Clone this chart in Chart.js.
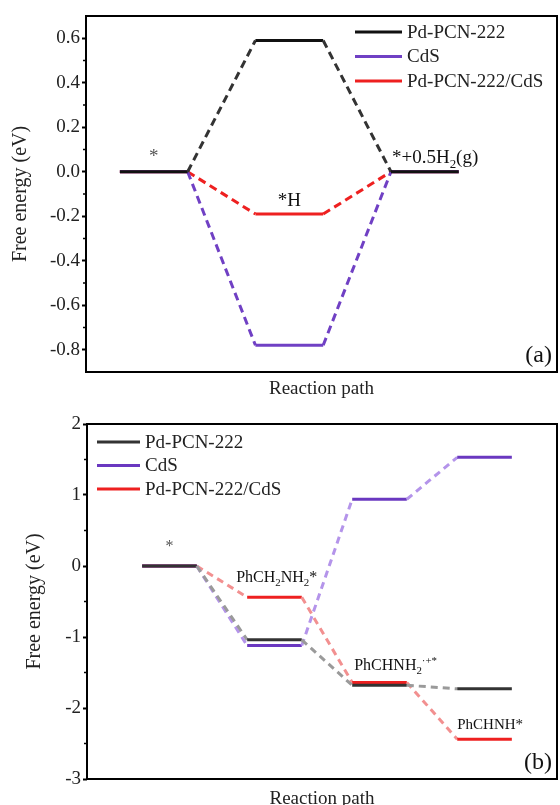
<!DOCTYPE html>
<html><head><meta charset="utf-8">
<script src="https://cdn.jsdelivr.net/npm/chart.js@4/dist/chart.umd.min.js"></script>
<style>
html,body{margin:0;padding:0;background:#fff;width:560px;height:805px;overflow:hidden}
#ca{position:absolute;left:0;top:0}
#cb{position:absolute;left:0;top:400px}
</style></head><body>
<canvas id="ca" width="560" height="400"></canvas>
<canvas id="cb" width="560" height="412"></canvas>
<script>
// ---------- data ----------
const seriesNames = ['Pd-PCN-222', 'CdS', 'Pd-PCN-222/CdS'];
// panel (a): hydrogen evolution
const stepsA = ['*', '*H', '*+0.5H2(g)'];
const pdA   = [0, 0.59, 0];
const cdsA  = [0, -0.78, 0];
const compA = [0, -0.19, 0];
const yTicksA = [-0.8, -0.6, -0.4, -0.2, 0.0, 0.2, 0.4, 0.6];
// panel (b): benzylamine oxidation
const stepsB = ['*', 'PhCH2NH2*', 'PhCHNH2·+*', 'PhCHNH*'];
const pdB   = [0, -1.04, -1.68, -1.73];
const cdsB  = [0, -1.12, 0.94, 1.53];
const compB = [0, -0.44, -1.64, -2.44];
const yTicksB = [-3, -2, -1, 0, 1, 2];

// ---------- styling ----------
const FONT = "'Liberation Serif','Times New Roman',serif";
Chart.defaults.font.family = FONT;
Chart.defaults.color = '#222';

function levelPoints(vals, start, width) {
  const pts = [];
  vals.forEach((v, i) => {
    pts.push({x: start + 2 * i, y: v});
    pts.push({x: start + 2 * i + width, y: v});
  });
  return pts;
}
function ds(label, pts, color, connColor, dash) {
  return {
    label, data: pts, borderColor: color, backgroundColor: color, borderWidth: 3,
    pointRadius: 0, pointHoverRadius: 0, fill: false, tension: 0, borderCapStyle: 'butt',
    segment: {
      borderColor: c => (c.p0DataIndex % 2 === 1 ? connColor : color),
      borderDash: c => (c.p0DataIndex % 2 === 1 ? dash : [])
    }
  };
}

function drawRich(ctx, parts, x, y, size, align, color) {
  const widths = parts.map(p => {
    const s = (p.sub || p.sup) ? size * 0.68 : size;
    ctx.font = s + 'px ' + FONT;
    return ctx.measureText(p.t).width;
  });
  const total = widths.reduce((a, b) => a + b, 0);
  let cx = align === 'center' ? x - total / 2 : (align === 'right' ? x - total : x);
  ctx.fillStyle = color;
  ctx.textBaseline = 'alphabetic';
  ctx.textAlign = 'left';
  parts.forEach((p, i) => {
    const s = (p.sub || p.sup) ? size * 0.68 : size;
    ctx.font = s + 'px ' + FONT;
    const oy = p.sub ? size * 0.25 : (p.sup ? -size * 0.42 : 0);
    ctx.fillText(p.t, cx, y + oy);
    cx += widths[i];
  });
}

function makePlugin(cfg) {
  return {
    id: 'deco' + cfg.id,
    afterDatasetsDraw(chart) {
      const {ctx, chartArea: a, scales: {x, y}} = chart;
      ctx.save();
      // frame
      ctx.strokeStyle = '#000';
      ctx.lineWidth = 2;
      ctx.strokeRect(a.left, a.top, a.right - a.left, a.bottom - a.top);
      // minor ticks
      ctx.lineWidth = 1.5;
      for (let i = 0; i < cfg.ticks.length - 1; i++) {
        const m = (cfg.ticks[i] + cfg.ticks[i + 1]) / 2;
        const py = y.getPixelForValue(m);
        ctx.beginPath(); ctx.moveTo(a.left - 3, py); ctx.lineTo(a.left, py); ctx.stroke();
      }
      // legend
      cfg.legend.colors.forEach((c, i) => {
        const ly = cfg.legend.y + i * cfg.legend.dy;
        ctx.strokeStyle = c; ctx.lineWidth = 3;
        ctx.beginPath(); ctx.moveTo(cfg.legend.x, ly); ctx.lineTo(cfg.legend.x + cfg.legend.len, ly); ctx.stroke();
        ctx.fillStyle = '#222';
        ctx.font = '19px ' + FONT;
        ctx.textBaseline = 'middle'; ctx.textAlign = 'left';
        ctx.fillText(seriesNames[i], cfg.legend.x + cfg.legend.len + 5, ly + 1);
      });
      // step labels
      cfg.labels.forEach(L => {
        const xs = cfg.start + 2 * L.step;
        const xv = L.align === 'center' ? xs + cfg.width / 2 : xs;
        const px = x.getPixelForValue(xv) + (L.dx || 0);
        const py = y.getPixelForValue(L.series[L.step]) + L.dy;
        drawRich(ctx, L.parts, px, py, L.size, L.align, L.color || '#111');
      });
      // panel tag
      ctx.font = '24px ' + FONT;
      ctx.fillStyle = '#111';
      ctx.textAlign = 'right'; ctx.textBaseline = 'alphabetic';
      ctx.fillText(cfg.tag, a.right - 5, a.bottom - 10);
      ctx.restore();
    }
  };
}

function makeChart(el, c) {
  return new Chart(el, {
    type: 'line',
    data: {datasets: c.datasets},
    options: {
      responsive: false, animation: false, events: [],
      layout: {padding: {left: 0, top: c.top, right: 3, bottom: 0}},
      plugins: {legend: {display: false}, tooltip: {enabled: false}},
      scales: {
        x: {
          type: 'linear', min: c.xmin, max: c.xmax,
          ticks: {display: false},
          grid: {display: false, drawTicks: false},
          border: {display: false},
          title: {display: true, text: 'Reaction path', color: '#222',
                  font: {size: 19, family: FONT}, padding: {top: 0, bottom: c.xtitlePad}},
          afterFit: s => { s.height = c.xh; }
        },
        y: {
          min: c.ymin, max: c.ymax,
          afterBuildTicks: s => { s.ticks = c.ticks.map(v => ({value: v})); },
          ticks: {color: '#222', font: {size: 19, family: FONT}, padding: 2,
                  callback: v => c.fmt(v)},
          grid: {drawOnChartArea: false, drawTicks: true, tickLength: 4, tickColor: '#000', tickWidth: 2},
          border: {display: false},
          title: {display: true, text: 'Free energy (eV)', color: '#222',
                  font: {size: 20, family: FONT}, padding: {top: c.ytitlePad, bottom: 0}},
          afterFit: s => { s.width = c.yw; }
        }
      }
    },
    plugins: [makePlugin(c.deco)]
  });
}

// ---------- panel (a) ----------
const startA = 0.5, widthA = 1;
makeChart(document.getElementById('ca'), {
  datasets: [
    ds(seriesNames[0], levelPoints(pdA, startA, widthA), '#111', '#333', [8, 5]),
    ds(seriesNames[1], levelPoints(cdsA, startA, widthA), '#7040c4', '#7040c4', [8, 5]),
    ds(seriesNames[2], levelPoints(compA, startA, widthA), '#ee2020', '#ee2020', [8, 5])
  ],
  xmin: 0, xmax: 6.95, ymin: -0.9, ymax: 0.7, ticks: yTicksA, fmt: v => v.toFixed(1),
  top: 16, xh: 28, xtitlePad: 0, yw: 86, ytitlePad: 9,
  deco: {
    id: 'a', ticks: yTicksA, start: startA, width: widthA, tag: '(a)',
    legend: {x: 355, y: 32, dy: 24.5, len: 47, colors: ['#111', '#7040c4', '#ee2020']},
    labels: [
      {parts: [{t: '*'}], step: 0, series: pdA, align: 'center', dy: -10, size: 19, color: '#555'},
      {parts: [{t: '*H'}], step: 1, series: compA, align: 'center', dy: -8, size: 19},
      {parts: [{t: '*+0.5H'}, {t: '2', sub: 1}, {t: '(g)'}], step: 2, series: pdA, align: 'left', dx: 1, dy: -9, size: 19}
    ]
  }
});

// ---------- panel (b) ----------
const startB = 1, widthB = 1.04;
makeChart(document.getElementById('cb'), {
  datasets: [
    ds(seriesNames[0], levelPoints(pdB, startB, widthB), '#333', '#9a9a9a', [7, 5]),
    ds(seriesNames[1], levelPoints(cdsB, startB, widthB), '#6a38c0', '#b494ea', [7, 5]),
    ds(seriesNames[2], levelPoints(compB, startB, widthB), '#ee2020', '#f29090', [7, 5])
  ],
  xmin: -0.05, xmax: 8.9, ymin: -3, ymax: 2, ticks: yTicksB, fmt: v => String(v),
  top: 24, xh: 33, xtitlePad: 2, yw: 87, ytitlePad: 23,
  deco: {
    id: 'b', ticks: yTicksB, start: startB, width: widthB, tag: '(b)',
    legend: {x: 97, y: 42, dy: 23.5, len: 43, colors: ['#333', '#6a38c0', '#ee2020']},
    labels: [
      {parts: [{t: '*'}], step: 0, series: pdB, align: 'center', dy: -15, size: 16, color: '#555'},
      {parts: [{t: 'PhCH'}, {t: '2', sub: 1}, {t: 'NH'}, {t: '2', sub: 1}, {t: '*'}], step: 1, series: compB, align: 'left', dx: -11, dy: -15, size: 16},
      {parts: [{t: 'PhCHNH'}, {t: '2', sub: 1}, {t: '·+*', sup: 1}], step: 2, series: compB, align: 'left', dx: 2, dy: -12, size: 16},
      {parts: [{t: 'PhCHNH*'}], step: 3, series: compB, align: 'left', dx: 0, dy: -10, size: 15}
    ]
  }
});
</script>
</body></html>
